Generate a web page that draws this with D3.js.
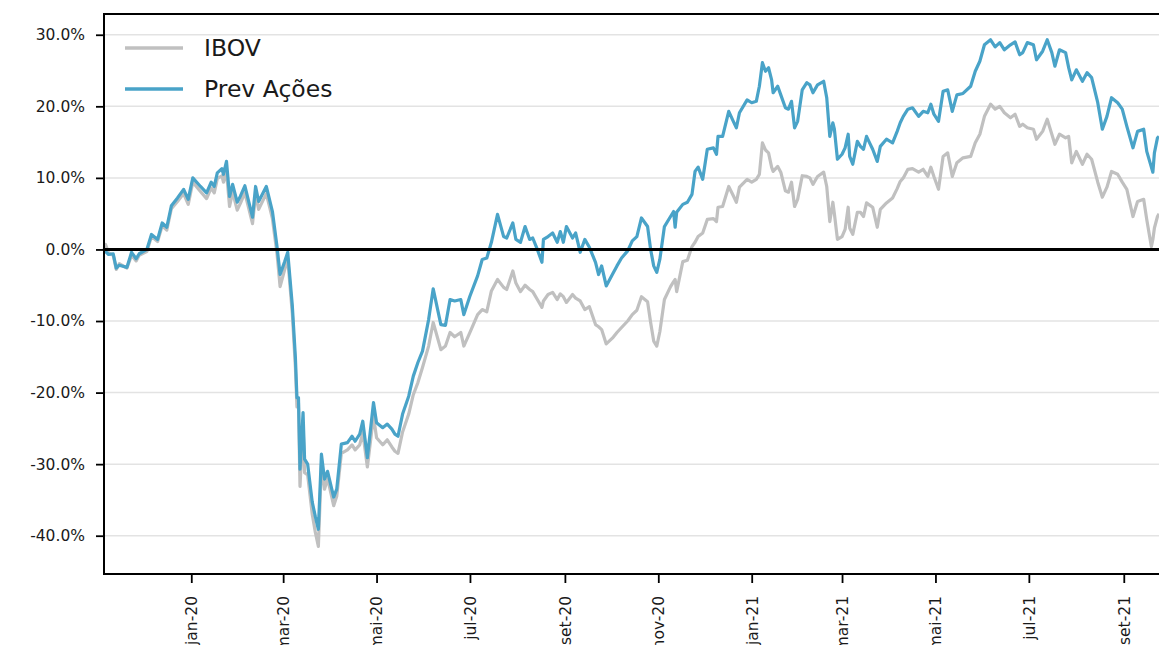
<!DOCTYPE html>
<html>
<head>
<meta charset="utf-8">
<script src="https://cdn.jsdelivr.net/npm/d3@7"></script>
<style>
  body { margin: 0; background: #fff; }
  svg text { font-family: "DejaVu Sans", sans-serif; fill: #1a1a1a; }
</style>
</head>
<body>
<svg id="chart" width="1159" height="645"></svg>
<script>

// data (cumulative return, %)
const dates = [
  "2019-11-05","2019-11-06","2019-11-08","2019-11-11","2019-11-13","2019-11-15","2019-11-20","2019-11-23","2019-11-26","2019-11-28",
  "2019-12-03","2019-12-06","2019-12-10","2019-12-13","2019-12-16","2019-12-19","2019-12-23","2019-12-27","2019-12-30",
  "2020-01-02","2020-01-07","2020-01-11","2020-01-14","2020-01-16","2020-01-18","2020-01-21","2020-01-22","2020-01-24","2020-01-26","2020-01-28","2020-01-31",
  "2020-02-02","2020-02-05","2020-02-10","2020-02-12","2020-02-14","2020-02-19","2020-02-23","2020-02-26","2020-02-28",
  "2020-03-02","2020-03-04","2020-03-07","2020-03-09","2020-03-10","2020-03-11","2020-03-12","2020-03-14","2020-03-15","2020-03-17","2020-03-20","2020-03-22","2020-03-24","2020-03-26","2020-03-28","2020-03-30",
  "2020-04-03","2020-04-05","2020-04-08","2020-04-12","2020-04-15","2020-04-17","2020-04-20","2020-04-22","2020-04-25","2020-04-29",
  "2020-05-01","2020-05-05","2020-05-08","2020-05-11","2020-05-13","2020-05-15","2020-05-18","2020-05-22","2020-05-25","2020-05-28","2020-05-31",
  "2020-06-04","2020-06-07","2020-06-12","2020-06-15","2020-06-18","2020-06-21","2020-06-25","2020-06-27",
  "2020-07-01","2020-07-06","2020-07-09","2020-07-12","2020-07-15","2020-07-19","2020-07-23","2020-07-25","2020-07-29","2020-07-31",
  "2020-08-03","2020-08-06","2020-08-09","2020-08-11","2020-08-14","2020-08-17","2020-08-18","2020-08-21","2020-08-24","2020-08-27","2020-08-29","2020-08-31",
  "2020-09-02","2020-09-06","2020-09-08","2020-09-11","2020-09-14","2020-09-17","2020-09-21","2020-09-23","2020-09-25","2020-09-28",
  "2020-10-02","2020-10-05","2020-10-08","2020-10-12","2020-10-15","2020-10-18","2020-10-21","2020-10-25","2020-10-27","2020-10-29","2020-10-31",
  "2020-11-02","2020-11-05","2020-11-09","2020-11-11","2020-11-12","2020-11-13","2020-11-17","2020-11-20","2020-11-23","2020-11-25","2020-11-27","2020-11-30",
  "2020-12-03","2020-12-07","2020-12-09","2020-12-10","2020-12-13","2020-12-17","2020-12-20","2020-12-22","2020-12-24","2020-12-29",
  "2021-01-01","2021-01-04","2021-01-06","2021-01-08","2021-01-10","2021-01-12","2021-01-14","2021-01-15","2021-01-18","2021-01-20","2021-01-23","2021-01-25","2021-01-27","2021-01-29","2021-01-31",
  "2021-02-03","2021-02-06","2021-02-08","2021-02-10","2021-02-13","2021-02-17","2021-02-19","2021-02-21","2021-02-23","2021-02-24","2021-02-26",
  "2021-03-01","2021-03-03","2021-03-05","2021-03-06","2021-03-08","2021-03-11","2021-03-13","2021-03-15","2021-03-17","2021-03-19","2021-03-21","2021-03-24","2021-03-26","2021-03-30",
  "2021-04-03","2021-04-06","2021-04-08","2021-04-10","2021-04-13","2021-04-16","2021-04-20","2021-04-23","2021-04-26","2021-04-28","2021-04-30",
  "2021-05-03","2021-05-06","2021-05-09","2021-05-12","2021-05-15","2021-05-19","2021-05-24","2021-05-27","2021-05-30",
  "2021-06-02","2021-06-06","2021-06-09","2021-06-12","2021-06-15","2021-06-19","2021-06-22","2021-06-25","2021-06-27","2021-06-30",
  "2021-07-04","2021-07-06","2021-07-10","2021-07-13","2021-07-16","2021-07-18","2021-07-21","2021-07-25","2021-07-27","2021-07-29",
  "2021-08-01","2021-08-05","2021-08-08","2021-08-11","2021-08-15","2021-08-18","2021-08-21","2021-08-24","2021-08-28","2021-08-31",
  "2021-09-03","2021-09-07","2021-09-10","2021-09-14","2021-09-16","2021-09-19","2021-09-20","2021-09-21","2021-09-23","2021-09-24"
];

const ibov = [
  0.0, 0.7, -0.5, -0.8, -2.8, -2.0, -2.6, -0.8, -1.6, -0.8,
  -0.3, 1.8, 1.1, 3.3, 2.7, 5.7, 6.7, 7.8, 6.3,
  9.4, 8.1, 7.1, 8.6, 7.9, 9.9, 10.3, 9.4, 10.8, 6.0, 8.0, 5.5,
  6.4, 7.9, 3.6, 7.7, 5.6, 7.8, 4.3, -0.6, -5.2,
  -2.8, -1.3, -9.0, -16.5, -22.0, -21.5, -33.1, -24.5, -31.2, -31.5, -37.0, -39.5, -41.5, -30.0, -33.5, -32.0,
  -35.8, -34.5, -28.5, -28.0, -27.3, -28.0, -27.3, -25.6, -30.4, -23.3,
  -26.3, -27.3, -26.6, -27.6, -28.2, -28.5, -25.5, -23.0, -20.3, -18.6, -16.5,
  -13.5, -10.2, -14.0, -13.5, -11.6, -12.2, -11.6, -13.5,
  -11.6, -9.1, -8.4, -8.7, -5.8, -4.2, -5.3, -5.6, -3.0, -4.7,
  -5.9, -5.0, -5.6, -5.9, -7.0, -8.1, -7.2, -6.3, -6.0, -7.0, -6.2, -6.6,
  -7.4, -6.3, -6.8, -7.2, -8.4, -8.0, -10.5, -10.8, -11.2, -13.2,
  -12.4, -11.6, -10.9, -10.0, -9.1, -8.5, -6.6, -7.3, -10.2, -12.8, -13.5,
  -11.5, -7.0, -5.2, -4.5, -4.2, -5.9, -1.7, -1.5, 0.4, 1.0, 1.8, 2.3,
  4.2, 4.3, 3.9, 5.9, 6.0, 8.8, 7.5, 6.6, 8.7, 9.8,
  9.4, 9.8, 10.5, 14.9, 13.9, 13.5, 11.5, 10.9, 11.6, 10.8, 8.2, 8.0, 9.4, 6.0, 7.0,
  10.3, 10.2, 10.0, 9.1, 10.2, 10.8, 8.8, 3.9, 6.6, 5.0, 1.4,
  1.8, 2.8, 5.9, 3.0, 2.1, 5.2, 5.2, 4.6, 6.5, 6.2, 5.9, 3.1, 5.6, 6.5,
  7.2, 8.5, 9.5, 10.0, 11.2, 11.3, 10.8, 11.2, 10.2, 11.5, 10.2,
  8.4, 13.0, 13.5, 10.2, 12.1, 12.8, 13.0, 14.9, 16.1,
  18.6, 20.3, 19.6, 20.0, 19.1, 18.4, 18.9, 17.2, 17.5, 17.0,
  16.8, 15.4, 16.5, 18.2, 16.1, 14.7, 16.1, 15.6, 15.8, 12.1,
  13.7, 11.9, 13.3, 12.6, 9.4, 7.3, 8.7, 10.9, 10.5, 9.4,
  8.4, 4.6, 6.7, 7.0, 4.2, 0.4, 1.4, 3.0, 4.6, 5.0
];

const prevAcoes = [
  0.0, -0.3, -0.7, -0.6, -2.6, -2.2, -2.5, -0.4, -1.3, -0.6,
  0.0, 2.1, 1.4, 3.7, 3.1, 6.1, 7.2, 8.4, 7.0,
  10.0, 8.8, 7.9, 9.4, 8.8, 10.7, 11.3, 10.5, 12.3, 7.4, 9.1, 6.6,
  7.4, 8.9, 4.5, 8.8, 6.7, 8.8, 5.3, 0.4, -3.5,
  -1.7, -0.4, -7.9, -15.1, -20.7, -20.7, -30.7, -22.8, -29.3, -30.0, -35.3, -37.3, -39.1, -28.6, -32.1, -31.0,
  -34.6, -33.5, -27.2, -27.0, -26.1, -26.8, -25.8, -24.0, -29.1, -21.4,
  -24.2, -24.9, -24.4, -25.1, -25.8, -26.1, -23.0, -20.5, -17.7, -15.8, -14.2,
  -9.8, -5.5, -10.5, -10.6, -7.0, -7.2, -7.0, -9.1,
  -6.5, -3.7, -1.4, -1.2, 1.0, 4.9, 1.8, 1.6, 3.7, 1.4,
  1.0, 3.2, 1.4, 1.6, 0.0, -1.8, 1.4, 1.8, 2.3, 1.0, 2.5, 1.0,
  3.2, 1.6, 2.3, -0.4, 1.4, 0.3, -1.8, -3.5, -2.3, -5.1,
  -3.5, -2.3, -1.2, -0.2, 1.2, 1.8, 4.4, 3.2, 0.0, -2.3, -3.2,
  -1.4, 3.2, 4.6, 5.3, 3.1, 5.2, 6.3, 6.6, 7.7, 10.9, 11.5, 9.8,
  14.0, 14.2, 13.3, 15.8, 15.8, 19.3, 17.9, 17.0, 19.1, 20.9,
  20.5, 20.7, 22.8, 26.1, 24.9, 25.4, 23.7, 21.9, 22.8, 21.6, 19.8, 19.6, 20.7, 17.0, 17.9,
  22.3, 23.3, 23.0, 21.9, 23.0, 23.5, 21.2, 15.8, 17.7, 16.8, 12.6,
  13.3, 14.2, 16.1, 13.0, 11.9, 15.1, 14.4, 14.0, 15.8, 14.9, 14.0, 12.3, 14.4, 15.4,
  14.9, 16.5, 17.7, 18.6, 19.6, 19.8, 18.6, 19.3, 19.1, 20.3, 18.9,
  17.9, 22.1, 22.3, 19.3, 21.6, 21.8, 22.8, 24.9, 26.3,
  28.6, 29.3, 28.3, 28.9, 27.9, 28.6, 29.0, 27.2, 27.5, 28.9,
  28.6, 26.5, 27.7, 29.3, 27.5, 25.6, 27.9, 27.5, 25.4, 23.7,
  25.1, 23.5, 24.7, 24.0, 20.5, 16.8, 18.6, 21.2, 20.5, 19.6,
  17.2, 14.2, 16.5, 16.8, 13.7, 11.5, 10.8, 13.5, 15.6, 15.8
];

const seriesNames = ["IBOV", "Prev Ações"];
const yTicks = [-40, -30, -20, -10, 0, 10, 20, 30];
const xTickDates = ["2020-01-01","2020-03-01","2020-05-01","2020-07-01","2020-09-01","2020-11-01",
                    "2021-01-01","2021-03-01","2021-05-01","2021-07-01","2021-09-01"];
const xTickLabels = ["jan-20","mar-20","mai-20","jul-20","set-20","nov-20",
                     "jan-21","mar-21","mai-21","jul-21","set-21"];

const colors = ["#c0c0c0", "#49a3c8"];

// layout
let position = { left: 104, top: 14, right: 1159, bottom: 574 };
let svg = d3.select("#chart");
let parse = d3.timeParse("%Y-%m-%d");

let x = d3.scaleTime()
    .domain([parse("2019-11-05"), parse("2021-09-24")])
    .range([position.left, position.right]);

let y = d3.scaleLinear()
    .domain([-45.35, 32.9])
    .range([position.bottom, position.top]);

// grid
svg.append("g")
  .selectAll("line")
  .data(yTicks)
  .enter()
  .append("line")
    .attr("x1", position.left)
    .attr("x2", position.right)
    .attr("y1", d => y(d))
    .attr("y2", d => y(d))
    .style("stroke", "#e3e3e3")
    .style("stroke-width", 1.5);

// series
let line = d3.line()
    .x((d, i) => x(parse(dates[i])))
    .y(d => y(d));

[ibov, prevAcoes].forEach((s, k) => {
  svg.append("path")
    .datum(s)
    .attr("d", line)
    .style("fill", "none")
    .style("stroke", colors[k])
    .style("stroke-width", 3.2)
    .style("stroke-linejoin", "round");
});

// zero line
svg.append("line")
  .attr("x1", position.left).attr("x2", position.right)
  .attr("y1", y(0)).attr("y2", y(0))
  .style("stroke", "#000")
  .style("stroke-width", 3);

// axes
let yAxis = svg.append("g")
  .attr("transform", "translate(" + position.left + ",0)")
  .call(d3.axisLeft(y).tickValues(yTicks).tickSize(8).tickPadding(11)
        .tickFormat(d => d.toFixed(1) + "%"));
yAxis.select(".domain").remove();
yAxis.selectAll(".tick line").style("stroke", "#000").style("stroke-width", 1.8);
yAxis.selectAll(".tick text").style("font-size", "15.5px").style("fill", "#1a1a1a");

let xAxis = svg.append("g")
  .attr("transform", "translate(0," + position.bottom + ")")
  .call(d3.axisBottom(x).tickValues(xTickDates.map(parse)).tickSize(9)
        .tickFormat((d, i) => xTickLabels[i]));
xAxis.select(".domain").remove();
xAxis.selectAll(".tick line").style("stroke", "#000").style("stroke-width", 1.8);
xAxis.selectAll(".tick text")
  .attr("transform", "rotate(-90)")
  .attr("text-anchor", "end")
  .attr("x", -22)
  .attr("y", 0)
  .attr("dy", "0.35em")
  .style("font-size", "15.5px")
  .style("fill", "#1a1a1a");

// frame
let frame = svg.append("g")
  .style("stroke", "#000")
  .style("stroke-width", 2)
  .style("fill", "none");
frame.append("path")
  .attr("d", "M" + position.right + "," + position.top + "H" + position.left +
             "V" + position.bottom + "H" + position.right);

// legend
let legend = svg.append("g");
seriesNames.forEach((name, k) => {
  let ly = 48 + k * 41;
  legend.append("line")
    .attr("x1", 125).attr("x2", 183)
    .attr("y1", ly).attr("y2", ly)
    .style("stroke", colors[k])
    .style("stroke-width", 3.5);
  legend.append("text")
    .attr("x", 204)
    .attr("y", ly)
    .attr("dy", "0.35em")
    .style("font-size", "23.5px")
    .text(name);
});

</script>
</body>
</html>
